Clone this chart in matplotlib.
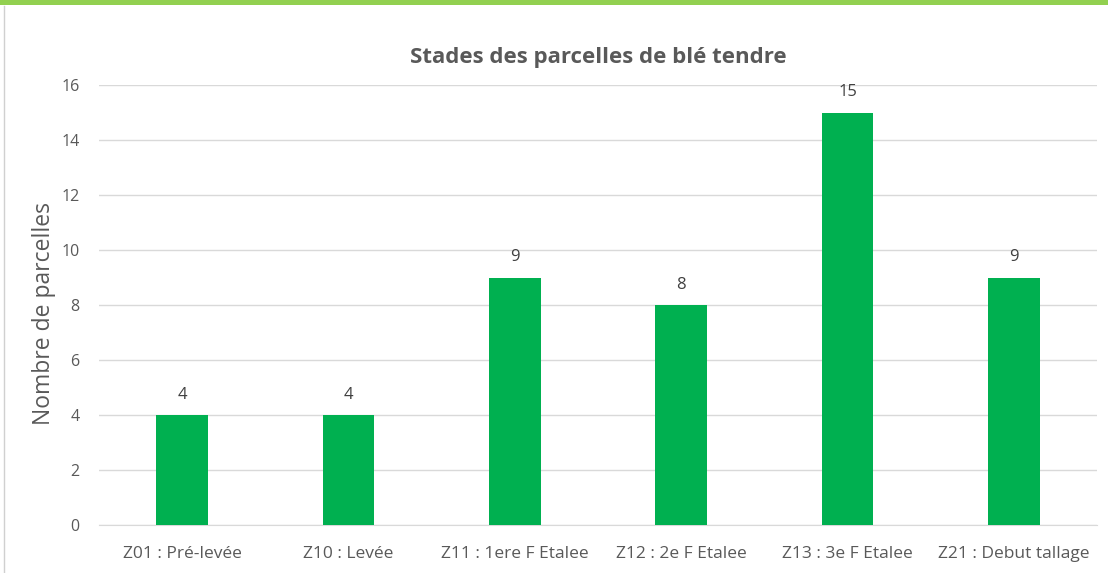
import numpy as np
from matplotlib import pyplot as plt
from matplotlib.patches import Rectangle
from matplotlib.lines import Line2D

stades = ['Z01 : Pré-levée', 'Z10 : Levée', 'Z11 : 1ere F Etalee',
          'Z12 : 2e F Etalee', 'Z13 : 3e F Etalee', 'Z21 : Debut tallage']
parcelles = [4, 4, 9, 8, 15, 9]
yticks = [0, 2, 4, 6, 8, 10, 12, 14, 16]

plt.rcParams['font.family'] = ['Open Sans', 'DejaVu Sans']
grey = '#595959'

fig = plt.figure(figsize=(11.08, 5.73), dpi=100)
fig.patch.set_facecolor('white')

# green band on top + left border line
fig.add_artist(Rectangle((0, 1 - 5 / 573), 1, 5 / 573, transform=fig.transFigure,
                         facecolor='#92d050', edgecolor='none'))
fig.add_artist(Line2D([4 / 1108, 4 / 1108], [0, 1 - 6 / 573], transform=fig.transFigure,
                      color='#d0d0d0', lw=1))

ax = fig.add_axes([99 / 1108, 1 - 525 / 573, 998 / 1108, 440 / 573])
x = np.arange(len(stades))
bars = ax.bar(x, parcelles, width=0.31, color='#00b050', zorder=3)
for b, v in zip(bars, parcelles):
    ax.text(b.get_x() + b.get_width() / 2, v + 0.45, str(v), ha='center', va='bottom',
            fontsize=12, color='#404040')

ax.set_xlim(-0.5, len(stades) - 0.5)
ax.set_ylim(0, 16)
ax.set_yticks(yticks)
ax.set_xticks(x)
ax.set_xticklabels(stades, fontsize=12.5)
ax.grid(axis='y', color='#d9d9d9', lw=1, zorder=0)
for s in ['top', 'right', 'left']:
    ax.spines[s].set_visible(False)
ax.spines['bottom'].set_color('#d9d9d9')
ax.tick_params(axis='both', length=0, labelcolor=grey)
ax.tick_params(axis='y', labelsize=11.5, pad=14)
ax.tick_params(axis='x', pad=15)
ax.set_ylabel('Nombre de parcelles', fontsize=16.5, color=grey)
ax.yaxis.set_label_coords(-0.043, 0.48)
ax.set_title('Stades des parcelles de blé tendre', fontsize=16, fontweight='bold',
             color=grey, pad=16)

fig.savefig('out.png', dpi=100)
